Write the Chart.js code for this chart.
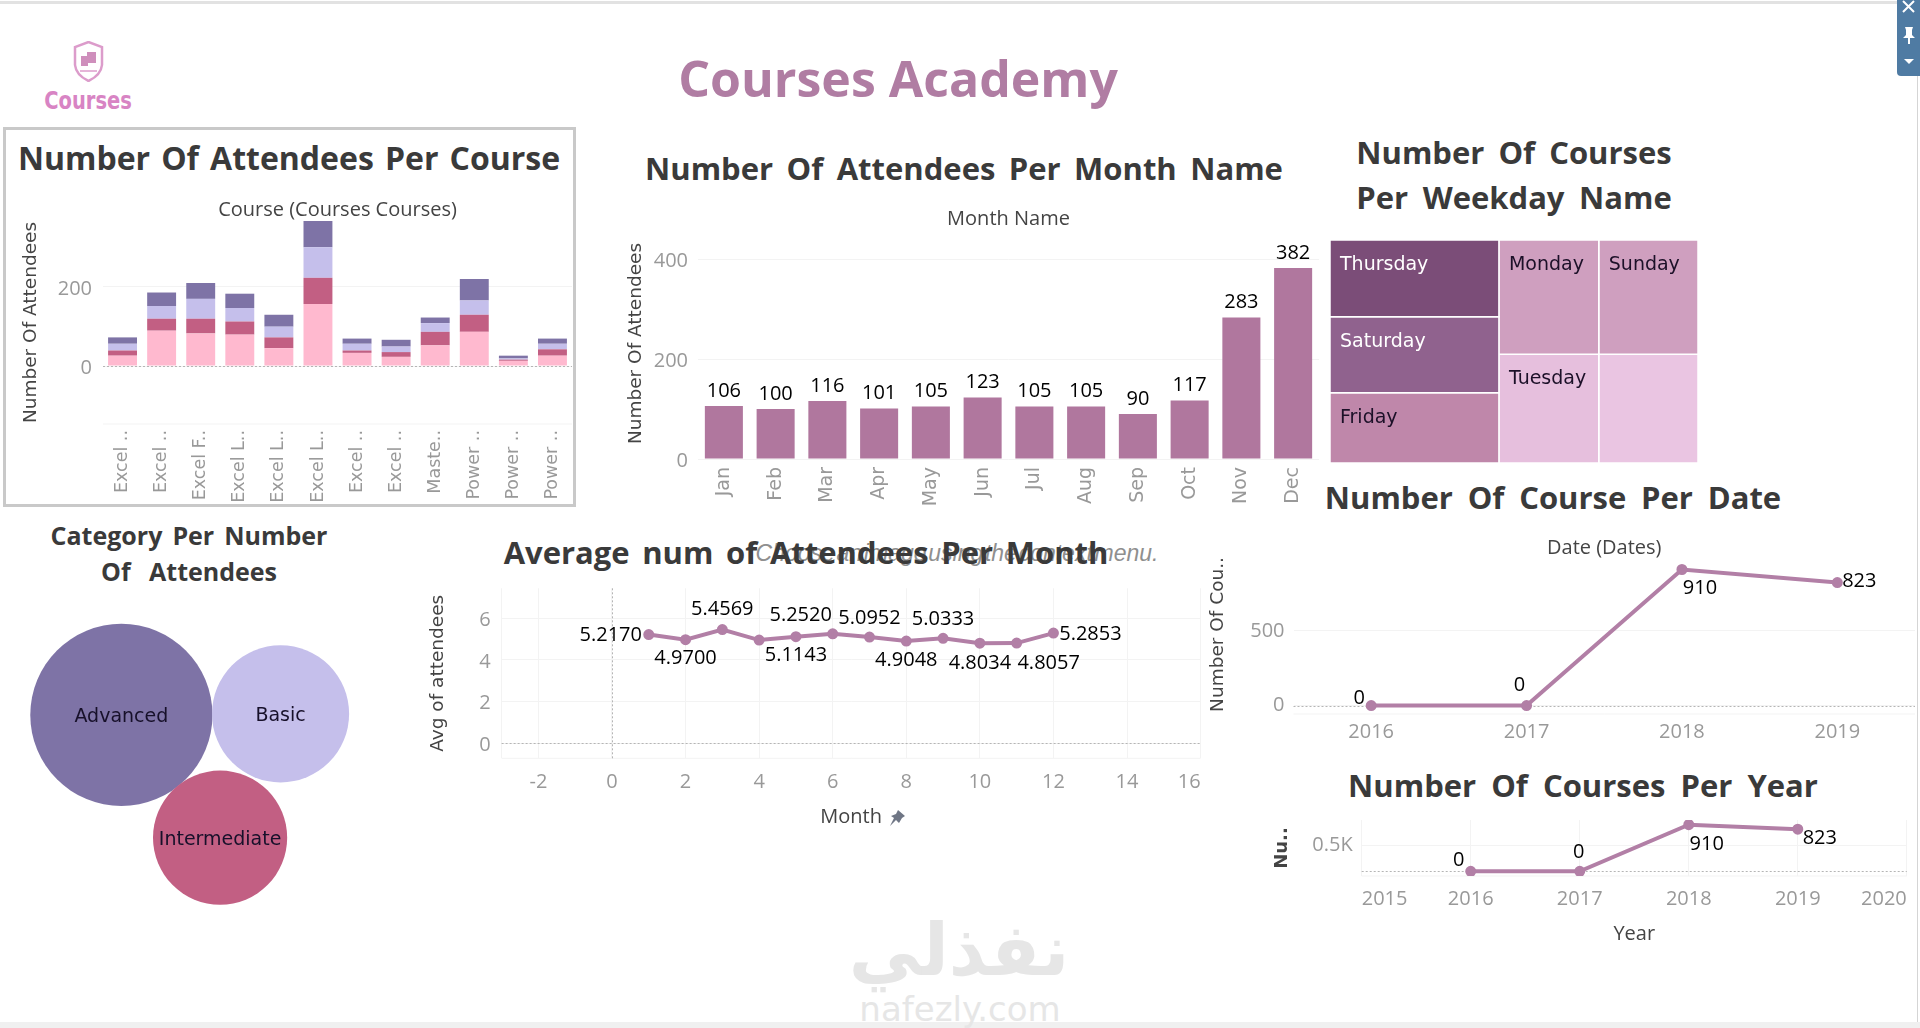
<!DOCTYPE html>
<html>
<head>
<meta charset="utf-8">
<title>Courses Academy</title>
<script src="https://cdn.jsdelivr.net/npm/chart.js@4"></script>
<style>
    html, body { margin: 0; background: #fff; }
    #page { position: relative; width: 1920px; height: 1028px; overflow: hidden; background: #fff; }
    #page canvas, #page div, #page svg { position: absolute; }
    .txt { white-space: nowrap; transform: translate(-50%, -50%); line-height: 1; }
    .head { font-family: "Comic Sans MS", "Open Sans", sans-serif; font-weight: 700; color: #3a3a3a; }
</style>
</head>
<body>
<div id="page">
    <div style="left:0;top:1px;width:1897px;height:3px;background:#e2e2e2"></div>
    <div style="left:3px;top:127px;width:567px;height:374px;border:3px solid #c9c9c9"></div>
    <div style="left:1917px;top:76px;width:1px;height:946px;background:#d5d5d5"></div>
    <div style="left:0;top:1022px;width:1920px;height:6px;background:#f0f0f0"></div>
    <div style="left:1897px;top:0;width:23px;height:76px;background:#4f7ba3;border-bottom-left-radius:4px"></div>
    <svg style="left:1897px;top:0" width="23" height="76" viewBox="0 0 23 76">
        <path d="M6 1 L17 12 M17 1 L6 12" stroke="#fff" stroke-width="2"/>
        <path d="M8 27 H16 L15 30 V35 L18 38 H13 V44 H11 V38 H6 L9 35 V30 Z" fill="#fff"/>
        <path d="M7 59 H17 L12 64 Z" fill="#fff"/>
    </svg>
    <svg style="left:73px;top:41px" width="31" height="41" viewBox="0 0 31 41">
        <path d="M15.5 1 L29 6 V24 Q28 34 15.5 40 Q3 34 2 24 V6 Z" fill="none" stroke="#dc9ccb" stroke-width="2.5"/>
        <rect x="8" y="15" width="7" height="10" fill="#cf8fbc"/>
        <rect x="14" y="11" width="9" height="11" fill="#cf8fbc"/>
        <path d="M7 30 H24" stroke="#dc9ccb" stroke-width="1.5"/>
    </svg>
    <svg style="left:888px;top:809px" width="18" height="18" viewBox="0 0 18 18">
        <path d="M10 1 L17 7 L14 9 L11 14 L8 11 L2 17 L6 9 L3 7 L8 5 Z" fill="#6f7685"/>
    </svg>
</div>
<script>
// values
const courseLabels = ["Excel ..", "Excel ..", "Excel F..", "Excel L..", "Excel L..", "Excel L..", "Excel ..", "Excel ..", "Maste..", "Power ..", "Power ..", "Power .."];
const coursePink = [26, 89, 82, 79, 45, 156, 33, 23, 52, 86, 13, 26];
const courseIntermediate = [13, 30, 37, 33, 27, 66, 6, 12, 34, 43, 3, 16];
const courseBasic = [17, 32, 50, 34, 27, 77, 17, 14, 22, 36, 3, 14];
const courseAdvanced = [16, 34, 40, 36, 30, 66, 13, 17, 14, 54, 7, 13];

const monthNames = ["Jan", "Feb", "Mar", "Apr", "May", "Jun", "Jul", "Aug", "Sep", "Oct", "Nov", "Dec"];
const monthAttendees = [106, 100, 116, 101, 105, 123, 105, 105, 90, 117, 283, 382];

const weekdayColumns = [["Thursday", "Saturday", "Friday"], ["Monday", "Tuesday"], ["Sunday", ""]];
const weekdayCounts = [[274, 271, 250], [241, 229], [239, 228]];

const categoryNames = ["Advanced", "Basic", "Intermediate"];
const categoryAttendees = [830, 470, 450];
const categoryX = [28.9, 66.8, 52.4];
const categoryY = [65.3, 65.6, 31.2];

const avgMonths = [1, 2, 3, 4, 5, 6, 7, 8, 9, 10, 11, 12];
const avgValues = [5.217, 4.97, 5.4569, 4.95, 5.1143, 5.252, 5.0952, 4.9048, 5.0333, 4.8034, 4.8057, 5.2853];
const avgLabels = ["5.2170", "4.9700", "5.4569", "", "5.1143", "5.2520", "5.0952", "4.9048", "5.0333", "4.8034", "4.8057", "5.2853"];

const dateYears = [2016, 2017, 2018, 2019];
const dateCourses = [0, 0, 910, 823];
const yearTicks = [2015, 2016, 2017, 2018, 2019, 2020];

// where each value label sits next to its point
const avgLabelDx = [-38, 0, 0, 0, 0, -32, 0, 0, 0, 0, 32, 37];
const avgLabelDy = [1, 19, -20, 0, 19, -19, -19, 19, -19, 20, 20, 1];
const dateLabelDx = [-12, -7, 18, 22];
const dateLabelDy = [-7, -20, 19, -1];
const yearLabelDx = [-12, -1, 18, 22];
const yearLabelDy = [-11, -19, 20, 9];

const line = "#b27fa6";
const gridColor = "#f3f3f3";
const tickFont = { family: "Open Sans", size: 20 };
const courseTickFont = { family: "DejaVu Sans", size: 17.5 };
const monthTickFont = { family: "DejaVu Sans", size: 19 };
const titleFont = { family: "DejaVu Sans", size: 18.5 };
const captionFont = { family: "Open Sans", size: 20 };

Chart.defaults.animation = false;
Chart.defaults.responsive = false;
Chart.defaults.color = "#999";
Chart.defaults.font.family = "Open Sans";
Chart.defaults.layout.autoPadding = false;
Chart.defaults.plugins.legend.display = false;
Chart.defaults.plugins.tooltip.enabled = false;

const page = document.getElementById("page");

// plain text on the page, width is fitted by widening the word gaps
function addText(text, cx, cy, size, cls, style, width) {
    const el = document.createElement("div");
    el.className = "txt " + cls;
    el.textContent = text;
    el.style.cssText = "left:" + cx + "px;top:" + cy + "px;font-size:" + size + "px;" + style;
    page.appendChild(el);
    if (width) {
        const gaps = text.split(" ").length - 1;
        el.style.wordSpacing = (width - el.offsetWidth) / gaps + "px";
    }
}

// canvas for one panel, with the plot area pinned to fixed pixels
function frame(box, plot, head) {
    const canvas = document.createElement("canvas");
    canvas.width = box.r - box.l;
    canvas.height = box.b - box.t;
    canvas.style.left = box.l + "px";
    canvas.style.top = box.t + "px";
    page.appendChild(canvas);
    const noPad = (s) => { s.paddingLeft = s.paddingRight = s.paddingTop = s.paddingBottom = 0; };
    return {
        ctx: canvas.getContext("2d"),
        layout: { padding: { left: 0, bottom: 0, top: head ? 0 : plot.t - box.t, right: box.r - plot.r } },
        fitX: (s) => { s.height = box.b - plot.b; noPad(s); },
        fitY: (s) => { s.width = plot.l - box.l; noPad(s); },
        fitHead: (s) => { s.height = plot.t - box.t; noPad(s); },
    };
}

const fixedTicks = (list) => (s) => { s.ticks = list.map((value) => ({ value })); };

// header line above the plot, drawn as a second x axis
const headAxis = (text, fit) => ({
    type: "linear",
    axis: "x",
    position: "top",
    afterFit: fit,
    grid: { display: false },
    border: { display: false },
    ticks: { display: false },
    title: { display: true, text, color: "#444", padding: 0, font: captionFont },
});

// tableau style zero lines and the faint line under the pane
function refLines(opts) {
    return {
        id: "refLines",
        beforeDatasetsDraw(chart) {
            const { ctx, chartArea: a, scales } = chart;
            ctx.save();
            ctx.lineWidth = 1;
            if (opts.edge) {
                ctx.strokeStyle = gridColor;
                ctx.beginPath();
                ctx.moveTo(a.left, a.bottom);
                ctx.lineTo(a.right, a.bottom);
                ctx.stroke();
            }
            ctx.strokeStyle = "#b5b5b5";
            ctx.setLineDash([2, 2]);
            if (opts.zeroY) {
                const y = Math.round(scales.y.getPixelForValue(0)) + 0.5;
                ctx.beginPath();
                ctx.moveTo(a.left, y);
                ctx.lineTo(a.right, y);
                ctx.stroke();
            }
            if (opts.zeroX) {
                const x = Math.round(scales.x.getPixelForValue(0)) + 0.5;
                ctx.beginPath();
                ctx.moveTo(x, a.top);
                ctx.lineTo(x, a.bottom);
                ctx.stroke();
            }
            ctx.restore();
        },
    };
}

// text tied to a drawn element
function markText(items, font, color) {
    return {
        id: "markText",
        afterDatasetsDraw(chart) {
            const { ctx } = chart;
            ctx.save();
            ctx.font = font;
            ctx.textBaseline = "middle";
            items.forEach((t) => {
                const el = chart.getDatasetMeta(t.ds).data[t.i];
                ctx.textAlign = t.align || "center";
                ctx.fillStyle = t.color || color;
                ctx.fillText(t.text, el.x + (t.dx || 0), el.y + (t.dy || 0));
            });
            ctx.restore();
        },
    };
}

// ---- headings
addText("Courses", 88, 100, 25, "", "font-family:'DejaVu Sans';font-weight:700;color:#d884c4;transform:translate(-50%,-50%) scaleX(0.78);", 0);
addText("Courses Academy", 898, 78, 50, "head", "color:#b07da3;", 440);
addText("Number Of Attendees Per Course", 289, 158, 32, "head", "", 542);
addText("Number Of Attendees Per Month Name", 964, 168, 31, "head", "", 638);
addText("Number Of Courses", 1514, 152, 31, "head", "", 315);
addText("Per Weekday Name", 1514, 197, 31, "head", "", 315);
addText("Category Per Number", 189, 535, 25, "head", "", 277);
addText("Of Attendees", 189, 571, 25, "head", "", 176);
addText("Choose an image using the context menu.", 957, 553, 23, "", "font-family:'Liberation Sans';font-style:italic;color:#8f8f8f;", 403);
addText("Average num of Attendees Per Month", 806, 552, 31, "head", "", 605);
addText("Number Of Course Per Date", 1553, 497, 31, "head", "", 456);
addText("Number Of Courses Per Year", 1583, 785, 31, "head", "", 470);

// watermark
addText("نفذلي", 959, 950, 72, "", "font-family:'DejaVu Sans';font-weight:700;color:#e6e6e6;", 0);
addText("nafezly.com", 960, 1009, 34, "", "font-family:'DejaVu Sans';color:#e6e6e6;", 0);

// ---- attendees per course
const f1 = frame({ l: 20, t: 198, r: 574, b: 504 }, { l: 103, t: 221, r: 572, b: 424 }, true);
new Chart(f1.ctx, {
    type: "bar",
    data: {
        labels: courseLabels,
        datasets: [
            { label: "Pink", data: coursePink, backgroundColor: "#ffb9cf" },
            { label: "Intermediate", data: courseIntermediate, backgroundColor: "#c25f83" },
            { label: "Basic", data: courseBasic, backgroundColor: "#c5bfeb" },
            { label: "Advanced", data: courseAdvanced, backgroundColor: "#7e73a6" },
        ],
    },
    options: {
        layout: f1.layout,
        barPercentage: 0.74,
        categoryPercentage: 1,
        scales: {
            x: {
                stacked: true,
                afterFit: f1.fitX,
                grid: { display: false, drawTicks: false },
                border: { display: false },
                ticks: { autoSkip: false, minRotation: 90, maxRotation: 90, padding: 6, font: courseTickFont },
            },
            head: headAxis("Course (Courses Courses)", f1.fitHead),
            y: {
                stacked: true,
                min: -146,
                max: 365,
                afterFit: f1.fitY,
                afterBuildTicks: fixedTicks([0, 200]),
                grid: { color: gridColor, drawTicks: false },
                border: { display: false },
                ticks: { padding: 11, labelOffset: 2.5, font: tickFont },
                title: { display: true, text: "Number Of Attendees", color: "#444", padding: 0, font: titleFont },
            },
        },
    },
    plugins: [refLines({ zeroY: true, edge: true })],
});

// ---- attendees per month name
const f2 = frame({ l: 625, t: 207, r: 1326, b: 510 }, { l: 698, t: 228, r: 1319, b: 459 }, true);
new Chart(f2.ctx, {
    type: "bar",
    data: {
        labels: monthNames,
        datasets: [{ label: "Attendees", data: monthAttendees, backgroundColor: "#b0779e" }],
    },
    options: {
        layout: f2.layout,
        barPercentage: 0.735,
        categoryPercentage: 1,
        scales: {
            x: {
                afterFit: f2.fitX,
                grid: { display: false, drawTicks: false },
                border: { display: false },
                ticks: { autoSkip: false, minRotation: 90, maxRotation: 90, padding: 8, font: monthTickFont },
            },
            head: headAxis("Month Name", f2.fitHead),
            y: {
                min: 0,
                max: 462,
                afterFit: f2.fitY,
                afterBuildTicks: fixedTicks([0, 200, 400]),
                grid: { color: gridColor, drawTicks: false },
                border: { display: false },
                ticks: { padding: 10, labelOffset: 2.5, font: tickFont },
                title: { display: true, text: "Number Of Attendees", color: "#444", padding: 0, font: titleFont },
            },
        },
    },
    plugins: [markText(monthAttendees.map((v, i) => ({ ds: 0, i, text: String(v), dy: -15 })), "20px 'Open Sans'", "#000")],
});

// ---- courses per weekday, each cell is a closed line with area from its count
const weekdayColors = [["#7b4d78", "#90628e", "#bf87aa"], ["#cf9fbf", "#e6bfdd"], ["#cf9fbf", "#eac5e2"]];
const weekdayText = [["#fff", "#fff", "#1c1028"], ["#1c1028", "#1c1028"], ["#1c1028", "#1c1028"]];
const weekdayTotal = weekdayCounts.flat().reduce((a, b) => a + b, 0);
const cellSets = [];
const cellLabels = [];
let colStart = 0;
weekdayCounts.forEach((col, c) => {
    const colSum = col.reduce((a, b) => a + b, 0);
    let rowStart = 0;
    col.forEach((count, r) => {
        const rowEnd = rowStart + count / colSum;
        cellSets.push({
            data: [
                { x: colStart, y: rowStart },
                { x: colStart + colSum, y: rowStart },
                { x: colStart + colSum, y: rowEnd },
                { x: colStart, y: rowEnd },
                { x: colStart, y: rowStart },
            ],
            showLine: true,
            fill: "shape",
            backgroundColor: weekdayColors[c][r],
            borderColor: "#fff",
            borderWidth: 1.5,
            pointRadius: 0,
        });
        cellLabels.push({ ds: cellSets.length - 1, i: 0, text: weekdayColumns[c][r], dx: 10, dy: 25, align: "left", color: weekdayText[c][r] });
        rowStart = rowEnd;
    });
    colStart += colSum;
});
const f3 = frame({ l: 1330, t: 240, r: 1698, b: 463 }, { l: 1330, t: 240, r: 1698, b: 463 }, false);
new Chart(f3.ctx, {
    type: "scatter",
    data: { datasets: cellSets },
    options: {
        layout: { padding: 0 },
        scales: {
            x: { display: false, min: 0, max: weekdayTotal },
            y: { display: false, min: 0, max: 1, reverse: true },
        },
    },
    plugins: [markText(cellLabels, "19px 'DejaVu Sans'", "#1c1028")],
});

// ---- category bubbles
const f4 = frame({ l: 0, t: 590, r: 420, b: 950 }, { l: 0, t: 590, r: 420, b: 950 }, false);
new Chart(f4.ctx, {
    type: "bubble",
    data: {
        datasets: [{
            data: categoryAttendees.map((v, i) => ({ x: categoryX[i], y: categoryY[i], r: Math.sqrt(v * 10) })),
            backgroundColor: ["#7e73a6", "#c5bfeb", "#c25f83"],
            borderWidth: 0,
            clip: false,
        }],
    },
    options: {
        layout: { padding: 0 },
        scales: {
            x: { display: false, min: 0, max: 100 },
            y: { display: false, min: 0, max: 100 },
        },
    },
    plugins: [markText(categoryNames.map((text, i) => ({ ds: 0, i, text, dy: 2 })), "19px 'DejaVu Sans'", "#17102a")],
});

// ---- average attendees per month
const f5 = frame({ l: 427, t: 580, r: 1204, b: 829 }, { l: 501.6, t: 588.3, r: 1200.6, b: 758.3 }, false);
const avgXTicks = [-3, -2, 0, 2, 4, 6, 8, 10, 12, 14, 16];
new Chart(f5.ctx, {
    type: "scatter",
    data: {
        datasets: [{
            data: avgMonths.map((m, i) => ({ x: m, y: avgValues[i] })),
            showLine: true,
            borderColor: line,
            backgroundColor: line,
            borderWidth: 4,
            pointRadius: 3.5,
        }],
    },
    options: {
        layout: f5.layout,
        scales: {
            x: {
                min: -3,
                max: 16,
                afterFit: f5.fitX,
                afterBuildTicks: fixedTicks(avgXTicks),
                grid: { color: gridColor, drawTicks: false },
                border: { display: false },
                ticks: { autoSkip: false, align: "inner", padding: 12, font: tickFont, maxRotation: 0, callback: (v) => (v === -3 ? "" : String(v)) },
                title: { display: true, text: "Month", color: "#444", padding: 0, font: captionFont },
            },
            y: {
                min: -0.735,
                max: 7.44,
                afterFit: f5.fitY,
                afterBuildTicks: fixedTicks([0, 2, 4, 6]),
                grid: { color: gridColor, drawTicks: false },
                border: { display: false },
                ticks: { padding: 11, labelOffset: 2, font: tickFont },
                title: { display: true, text: "Avg of attendees", color: "#444", padding: 0, font: titleFont },
            },
        },
    },
    plugins: [
        refLines({ zeroX: true, zeroY: true, edge: true }),
        markText(avgLabels.map((text, i) => ({ ds: 0, i, text, dx: avgLabelDx[i], dy: avgLabelDy[i] })), "20px 'Open Sans'", "#000"),
    ],
});

// ---- courses per date
const f6 = frame({ l: 1207, t: 536, r: 1916, b: 745 }, { l: 1293.5, t: 555, r: 1915, b: 714 }, true);
new Chart(f6.ctx, {
    type: "scatter",
    data: {
        datasets: [{
            data: dateYears.map((y, i) => ({ x: y, y: dateCourses[i] })),
            showLine: true,
            borderColor: line,
            backgroundColor: line,
            borderWidth: 4,
            pointRadius: 3.5,
        }],
    },
    options: {
        layout: f6.layout,
        scales: {
            x: {
                min: 2015.5,
                max: 2019.5,
                afterFit: f6.fitX,
                afterBuildTicks: fixedTicks(dateYears),
                grid: { display: false, drawTicks: false },
                border: { display: false },
                ticks: { padding: 6, font: tickFont, maxRotation: 0, callback: (v) => String(v) },
            },
            head: headAxis("Date (Dates)", f6.fitHead),
            y: {
                min: -56,
                max: 1007,
                afterFit: f6.fitY,
                afterBuildTicks: fixedTicks([0, 500]),
                grid: { color: gridColor, drawTicks: false },
                border: { display: false },
                ticks: { padding: 9, font: tickFont },
                title: { display: true, text: "Number Of Cou..", color: "#444", padding: 0, font: titleFont },
            },
        },
    },
    plugins: [
        refLines({ zeroY: true, edge: true }),
        markText(dateCourses.map((v, i) => ({ ds: 0, i, text: String(v), dx: dateLabelDx[i], dy: dateLabelDy[i] })), "20px 'Open Sans'", "#000"),
    ],
});

// ---- courses per year
const f7 = frame({ l: 1272, t: 815, r: 1912, b: 946 }, { l: 1361.7, t: 820, r: 1906.8, b: 876 }, false);
new Chart(f7.ctx, {
    type: "scatter",
    data: {
        datasets: [{
            data: dateYears.map((y, i) => ({ x: y, y: dateCourses[i] })),
            showLine: true,
            borderColor: line,
            backgroundColor: line,
            borderWidth: 4,
            pointRadius: 3.5,
        }],
    },
    options: {
        layout: f7.layout,
        scales: {
            x: {
                min: 2015,
                max: 2020,
                afterFit: f7.fitX,
                afterBuildTicks: fixedTicks(yearTicks),
                grid: { color: gridColor, drawTicks: false },
                border: { display: false },
                ticks: { align: "inner", padding: 11, font: tickFont, maxRotation: 0, callback: (v) => String(v) },
                title: { display: true, text: "Year", color: "#444", padding: 0, font: captionFont },
            },
            y: {
                min: -92,
                max: 1002,
                afterFit: f7.fitY,
                afterBuildTicks: fixedTicks([500]),
                grid: { color: gridColor, drawTicks: false },
                border: { display: false },
                ticks: { padding: 9, font: tickFont, callback: () => "0.5K" },
                title: { display: true, text: "Nu..", color: "#444", padding: 0, font: { family: "DejaVu Sans", size: 18, weight: "bold" } },
            },
        },
    },
    plugins: [
        refLines({ zeroY: true, edge: true }),
        markText(dateCourses.map((v, i) => ({ ds: 0, i, text: String(v), dx: yearLabelDx[i], dy: yearLabelDy[i] })), "20px 'Open Sans'", "#000"),
    ],
});
</script>
</body>
</html>
